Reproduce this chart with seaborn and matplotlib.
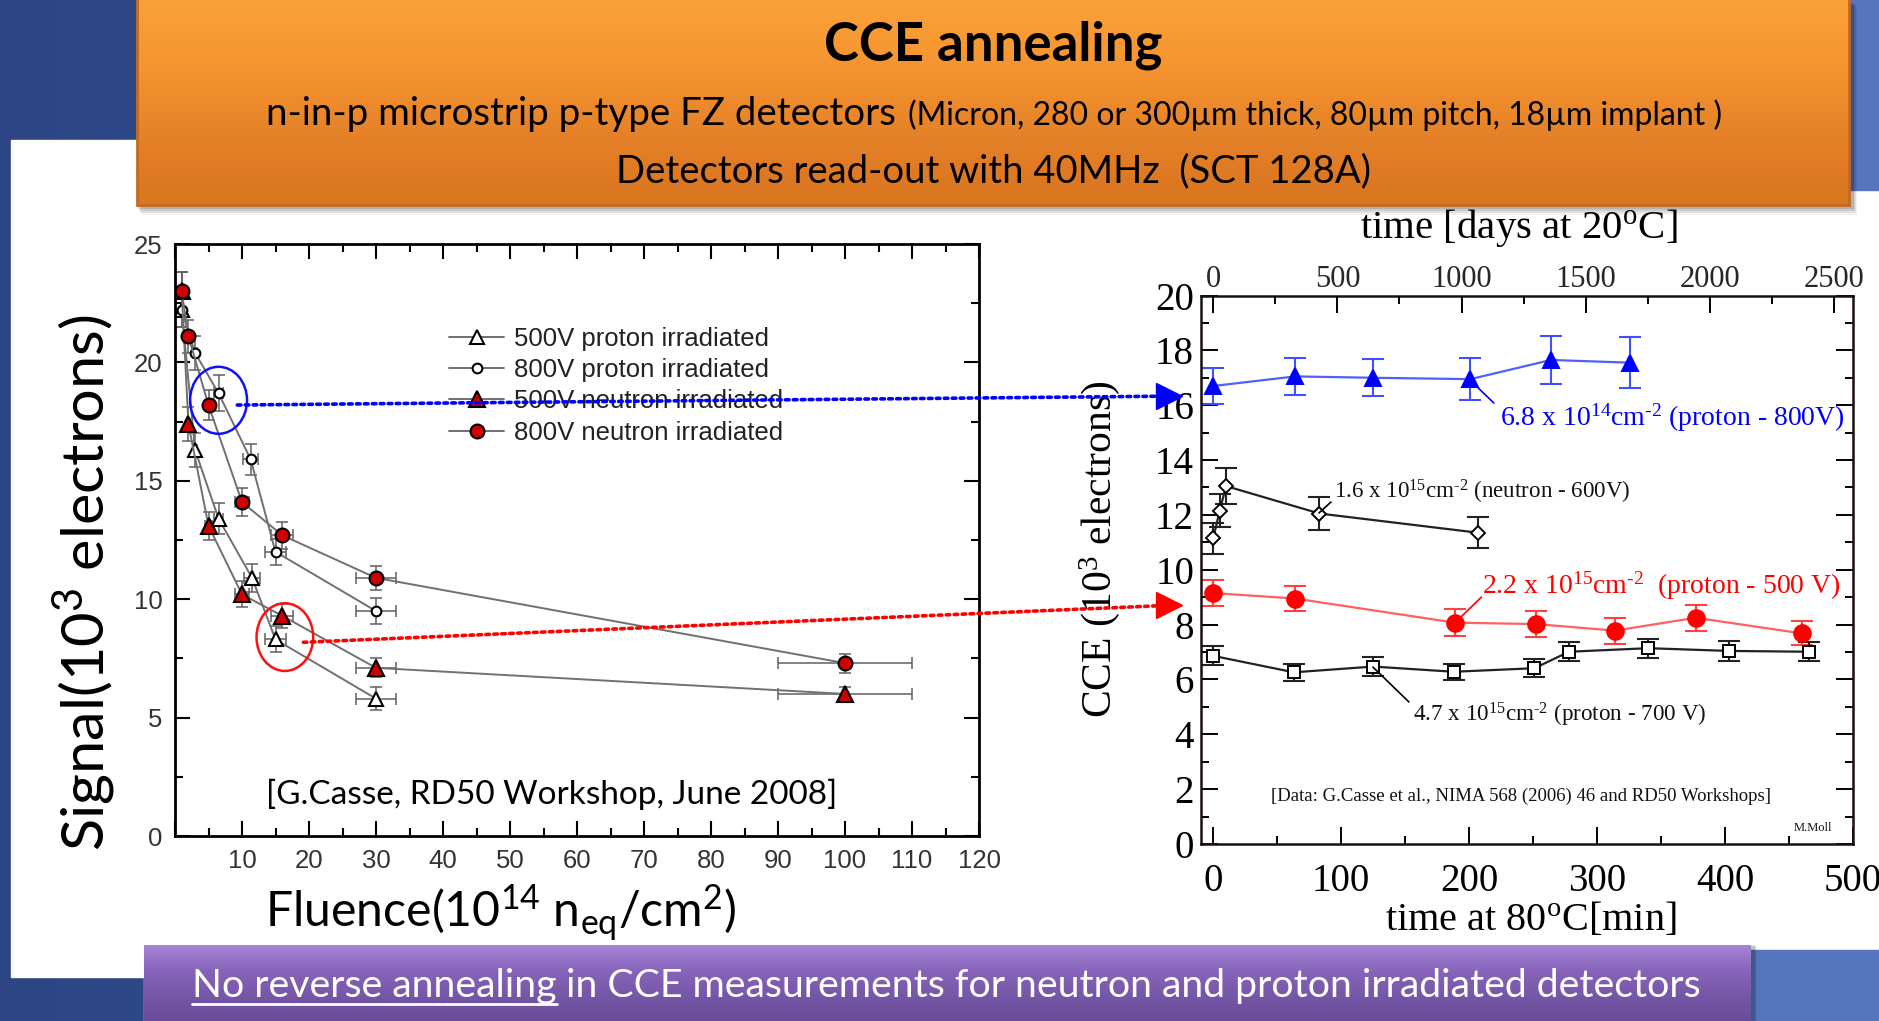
import numpy as np
import matplotlib
matplotlib.use("Agg")
import matplotlib.pyplot as plt
import seaborn as sns
from matplotlib.patches import Rectangle, Ellipse, ConnectionPatch
from matplotlib.lines import Line2D
from matplotlib.colors import LinearSegmentedColormap

# ---------------- Left panel: signal vs fluence ----------------
fluence_p500 = [1, 3, 6.5, 11.5, 15, 30]
signal_p500 = [22.2, 16.3, 13.4, 10.9, 8.3, 5.8]
xerr_p500 = [0.1, 0.3, 0.65, 1.15, 1.5, 3.0]
yerr_p500 = [0.7, 0.7, 0.65, 0.6, 0.55, 0.5]

fluence_p800 = [1, 3, 6.5, 11.3, 15, 30]
signal_p800 = [22.2, 20.4, 18.7, 15.9, 12.0, 9.5]
xerr_p800 = [0.1, 0.3, 0.65, 1.1, 1.5, 3.0]
yerr_p800 = [0.7, 0.7, 0.75, 0.65, 0.55, 0.55]

fluence_n = [1, 2, 5, 10, 16, 30, 100]
signal_n500 = [23.0, 17.4, 13.1, 10.2, 9.3, 7.1, 6.0]
signal_n800 = [23.0, 21.1, 18.2, 14.1, 12.7, 10.9, 7.3]
xerr_n = [0.1, 0.2, 0.5, 1.0, 1.6, 3.0, 10.0]
yerr_n500 = [0.8, 0.7, 0.6, 0.55, 0.5, 0.4, 0.3]
yerr_n800 = [0.8, 0.7, 0.65, 0.6, 0.56, 0.5, 0.4]

legend_labels = ["500V proton irradiated", "800V proton irradiated",
                 "500V neutron irradiated", "800V neutron irradiated"]

# ---------------- Right panel: CCE vs annealing time ----------------
t_p068 = [0, 64, 125, 201, 264, 326]
cce_p068 = [16.7, 17.05, 17.0, 16.95, 17.65, 17.55]
err_p068 = [0.66, 0.68, 0.68, 0.77, 0.88, 0.93]

t_n16 = [0, 5, 10, 83, 207]
cce_n16 = [11.15, 12.15, 13.05, 12.05, 11.35]
err_n16 = [0.57, 0.6, 0.65, 0.6, 0.57]

t_p22 = [0, 64, 189, 252, 314, 377, 460]
cce_p22 = [9.15, 8.95, 8.07, 8.02, 7.78, 8.25, 7.68]
err_p22 = [0.47, 0.46, 0.5, 0.49, 0.47, 0.47, 0.44]

t_p47 = [0, 63, 125, 188, 251, 278, 340, 403, 466]
cce_p47 = [6.86, 6.26, 6.47, 6.28, 6.41, 7.01, 7.14, 7.04, 7.01]
err_p47 = [0.35, 0.3, 0.34, 0.3, 0.33, 0.34, 0.35, 0.35, 0.35]

DAYS_PER_MIN = 5.154   # 1 min at 80C expressed as days at 20C

sns.set_theme(style="ticks")
plt.rcParams['font.family'] = ['Liberation Sans', 'DejaVu Sans']
SANS = ['Lato', 'DejaVu Sans']
SERIF = ['Liberation Serif', 'DejaVu Serif']
HY = '\u2010'  # short hyphen for the exponents

W, H = 1879, 1021
fig = plt.figure(figsize=(W / 100, H / 100), dpi=100)

# ---------------- slide background ----------------
bg = fig.add_axes([0, 0, 1, 1], zorder=-10)
bg.set_xlim(0, W)
bg.set_ylim(H, 0)
bg.axis('off')
blue_cmap = LinearSegmentedColormap.from_list('slide', ['#2d4585', '#3a5598', '#5675be'])
bg.imshow(np.linspace(0, 1, 256)[None, :], extent=[0, W, H, 0], aspect='auto', cmap=blue_cmap)
bg.add_patch(Rectangle((11, 140), W - 11, 977 - 140, color='white', zorder=2))
bg.add_patch(Rectangle((1849, 0), 30, 190, color='#5675be', zorder=3))
bg.add_patch(Rectangle((1740, 950), 139, 71, color='#5575bd', zorder=3))

# orange header with shadow
for i, a in enumerate([0.05, 0.07, 0.09, 0.12]):
    bg.add_patch(Rectangle((137 + 4 - i, 6 - i), 1712 + 4, 205 + 4 - i, color='black', alpha=a, lw=0, zorder=3))
orange = LinearSegmentedColormap.from_list('orng', ['#fba23a', '#f59430', '#e58128', '#d9741f'])
im = bg.imshow(np.linspace(0, 1, 256)[:, None], extent=[137, 1849, 205, 0], aspect='auto', cmap=orange, zorder=4)
clip = Rectangle((137, -2), 1712, 207, transform=bg.transData, facecolor='none')
bg.add_patch(clip)
im.set_clip_path(clip)
bg.add_patch(Rectangle((137, -2), 1712, 207, facecolor='none', edgecolor='#c4691f', lw=2, zorder=5))

# purple footer
for i, a in enumerate([0.06, 0.09, 0.12]):
    bg.add_patch(Rectangle((144 + 3 - i, 947 - i), 1607 + 3, 80, color='black', alpha=a, lw=0, zorder=3))
purple = LinearSegmentedColormap.from_list('prpl', ['#a785d8', '#8663b8', '#7556a6', '#684a98'])
im2 = bg.imshow(np.linspace(0, 1, 256)[:, None], extent=[144, 1751, 1025, 945], aspect='auto', cmap=purple, zorder=4)
clip2 = Rectangle((144, 945), 1607, 80, transform=bg.transData, facecolor='none')
bg.add_patch(clip2)
im2.set_clip_path(clip2)

# header texts
fig.text(993 / W, 1 - 60 / H, "CCE annealing", fontsize=38, fontweight='bold',
         family=SANS, ha='center', va='baseline', color='black')
fig.text(896 / W, 1 - 125 / H, "n-in-p microstrip p-type FZ detectors", fontsize=27.7,
         family=SANS, ha='right', va='baseline', color='black')
fig.text(908 / W, 1 - 125 / H, "(Micron, 280 or 300\u00b5m thick, 80\u00b5m pitch, 18\u00b5m implant )",
         fontsize=23, family=SANS, ha='left', va='baseline', color='black')
fig.text(993 / W, 1 - 182 / H, "Detectors read-out with 40MHz  (SCT 128A)", fontsize=27.5,
         family=SANS, ha='center', va='baseline', color='black')

# footer text with underlined lead-in
t1 = fig.text(192 / W, 1 - 997 / H, "No reverse annealing", fontsize=28.3, family=SANS,
              ha='left', va='baseline', color='white')
fig.canvas.draw()
rend = fig.canvas.get_renderer()
bb = t1.get_window_extent(rend)
x_end = bb.x1
fig.text(x_end / W, 1 - 997 / H, " in CCE measurements for neutron and proton irradiated detectors",
         fontsize=28.3, family=SANS, ha='left', va='baseline', color='white')
fig.add_artist(Line2D([bb.x0 / W, x_end / W], [1 - 1004 / H, 1 - 1004 / H], color='white', lw=2))

# ---------------- left panel ----------------
ax1 = fig.add_axes([175 / W, (H - 836) / H, 804 / W, 592 / H])
ax1.set_xlim(0, 120)
ax1.set_ylim(0, 25)
ax1.set_facecolor('white')
line_grey = '#707070'

left_series = [
    (fluence_p500, signal_p500, xerr_p500, yerr_p500, '^', 9.5, 'white'),
    (fluence_p800, signal_p800, xerr_p800, yerr_p800, 'o', 7, 'white'),
    (fluence_n, signal_n500, xerr_n, yerr_n500, '^', 12, '#cf0000'),
    (fluence_n, signal_n800, xerr_n, yerr_n800, 'o', 10, '#cf0000'),
]
for xs, ys, xe, ye, mk, ms, fc in left_series:
    ax1.errorbar(xs, ys, xerr=xe, yerr=ye, fmt='none', ecolor='#606060', elinewidth=1.1,
                 capsize=4, capthick=1.1, zorder=2)
for xs, ys, xe, ye, mk, ms, fc in left_series:
    sns.lineplot(x=xs, y=ys, ax=ax1, sort=False, estimator=None, color=line_grey, lw=1.4,
                 marker=mk, markersize=ms, markerfacecolor=fc, markeredgecolor='black',
                 markeredgewidth=1.5, zorder=3)

handles = [Line2D([], [], color=line_grey, lw=1.4, marker=mk, markersize=ms,
                  markerfacecolor=fc, markeredgecolor='black', markeredgewidth=1.5)
           for _, _, _, _, mk, ms, fc in left_series]
ax1.legend(handles, legend_labels, loc='upper left', bbox_to_anchor=(0.312, 0.899),
           frameon=False, fontsize=18.5, handlelength=2.15, handletextpad=0.37,
           labelspacing=0.28, borderpad=0.4, labelcolor='#222222')

ax1.add_patch(Ellipse((6.5, 18.4), 8.5, 2.83, fill=False, edgecolor='#1010ff', lw=1.8, zorder=5))
ax1.add_patch(Ellipse((16.4, 8.4), 8.46, 2.86, fill=False, edgecolor='#ff1010', lw=1.8, zorder=5))

ax1.set_xticks(np.arange(0, 121, 10))
ax1.set_xticklabels([''] + [str(v) for v in range(10, 121, 10)])
ax1.set_xticks(np.arange(5, 120, 10), minor=True)
ax1.set_yticks(np.arange(0, 26, 5))
ax1.set_yticks(np.arange(2.5, 25, 5), minor=True)
ax1.tick_params(which='both', direction='in', top=True, right=True, color='black',
                labelcolor='#333333', labelsize=18.5, width=1.5)
ax1.tick_params(which='major', length=11, pad=9)
ax1.tick_params(which='minor', length=6)
for s in ax1.spines.values():
    s.set_linewidth(2)
    s.set_color('black')
ax1.set_xlabel('')
ax1.set_ylabel('')
ax1.text(0.113, 0.07, "[G.Casse, RD50 Workshop, June 2008]", transform=ax1.transAxes,
         fontsize=24, family=SANS, ha='left', va='center', color='black')

fig.text(84 / W, 1 - 583 / H, "Signal(10$\\mathregular{^3}$ electrons)", rotation=90,
         fontsize=42.8, family=SANS, ha='center', va='center', color='black')
fig.text(501 / W, 1 - 913 / H, "Fluence(10$\\mathregular{^{14}}$ n$\\mathregular{_{eq}}$/cm$\\mathregular{^2}$)",
         fontsize=34.7, family=SANS, ha='center', va='center', color='black')

# ---------------- right panel ----------------
ax2 = fig.add_axes([1201 / W, (H - 844) / H, 652 / W, 548.5 / H])
ax2.set_xlim(-9.6, 500)
ax2.set_ylim(0, 20)
ax2.set_facecolor('white')

right_series = [
    (t_p068, cce_p068, err_p068, '^', 11, '#0000ff', '#0000ff', '#5060ff', '#4050ff'),
    (t_n16, cce_n16, err_n16, 'D', 7.5, 'white', 'black', '#222222', '#222222'),
    (t_p22, cce_p22, err_p22, 'o', 12, '#ff0000', '#ff0000', '#ff6060', '#ff4040'),
    (t_p47, cce_p47, err_p47, 's', 9, 'white', 'black', '#222222', '#222222'),
]
for xs, ys, ye, mk, ms, fc, ec, lc, erc in right_series:
    ax2.errorbar(xs, ys, yerr=ye, fmt='none', ecolor=erc, elinewidth=1.5, capsize=8,
                 capthick=1.5, zorder=2)
for xs, ys, ye, mk, ms, fc, ec, lc, erc in right_series:
    sns.lineplot(x=xs, y=ys, ax=ax2, sort=False, estimator=None, color=lc, lw=1.6,
                 marker=mk, markersize=ms, markerfacecolor=fc, markeredgecolor=ec,
                 markeredgewidth=1.4, zorder=3)

ax2.set_xticks(np.arange(0, 501, 100))
ax2.set_xticks(np.arange(50, 500, 100), minor=True)
ax2.set_yticks(np.arange(0, 21, 2))
ax2.set_yticks(np.arange(1, 20, 2), minor=True)
ax2.tick_params(which='both', direction='in', right=True, top=False, color='black',
                labelcolor='black', labelsize=28, labelfontfamily='Liberation Serif', width=1.4)
ax2.tick_params(which='major', length=12)
ax2.tick_params(which='minor', length=6)
ax2.tick_params(axis='x', pad=14)
ax2.tick_params(axis='y', pad=5)
for s in ax2.spines.values():
    s.set_linewidth(1.8)
    s.set_color('#1a1010')
ax2.set_xlabel('')
ax2.set_ylabel('')

ax2t = ax2.twiny()
ax2t.set_xlim(-9.6 * DAYS_PER_MIN, 500 * DAYS_PER_MIN)
ax2t.set_xticks(np.arange(0, 2501, 500))
ax2t.set_xticks(np.arange(250, 2500, 500), minor=True)
ax2t.tick_params(which='both', direction='in', top=True, bottom=False, labelbottom=False,
                 color='black', labelsize=22, labelfontfamily='Liberation Serif', width=1.4, pad=1)
ax2t.tick_params(which='major', length=12)
ax2t.tick_params(which='minor', length=6)
ax2t.grid(False)
for s in ax2t.spines.values():
    s.set_visible(False)

# labelled curves
ann = [
    ((200.5, 16.92), (219.3, 16.08), (224, 15.54), f"6.8 x 10$\\mathregular{{^{{14}}}}$cm$\\mathregular{{^{{{HY}2}}}}$ (proton - 800V)", '#0000ff', 'blue', 20),
    ((82.6, 12.07), (92, 12.47), (94.3, 12.84), f"1.6 x 10$\\mathregular{{^{{15}}}}$cm$\\mathregular{{^{{{HY}2}}}}$ (neutron - 600V)", '#111111', 'black', 16.6),
    ((188.8, 8.06), (209.5, 9.0), (210.3, 9.42), f"2.2 x 10$\\mathregular{{^{{15}}}}$cm$\\mathregular{{^{{{HY}2}}}}$  (proton - 500 V)", '#ff0000', 'red', 20),
    ((124.8, 6.45), (152.9, 5.18), (156, 4.7), f"4.7 x 10$\\mathregular{{^{{15}}}}$cm$\\mathregular{{^{{{HY}2}}}}$ (proton - 700 V)", '#111111', 'black', 16.7),
]
for p0, p1, pt, txt, col, lcol, fs in ann:
    ax2.plot([p0[0], p1[0]], [p0[1], p1[1]], color=lcol, lw=1.2, zorder=4)
    ax2.text(pt[0], pt[1], txt, color=col, fontsize=fs, family=SERIF, ha='left', va='center', zorder=5)
ax2.text(240.8, 1.75, "[Data: G.Casse et al., NIMA 568 (2006) 46 and RD50 Workshops]",
         fontsize=13.5, family=SERIF, ha='center', va='center', color='#111111')
ax2.text(469, 0.58, "M.Moll", fontsize=9, family=SERIF, ha='center', va='center', color='#111111')

fig.text(1100 / W, 1 - 549 / H, "CCE (10$\\mathregular{^3}$ electrons)", rotation=90,
         fontsize=30, family=SERIF, ha='center', va='center', color='black')
fig.text(1531 / W, 1 - 920 / H, "time at 80$\\mathregular{^o}$C[min]", fontsize=29,
         family=SERIF, ha='center', va='center', color='black')
fig.text(1519 / W, 1 - 228 / H, "time [days at 20$\\mathregular{^o}$C]", fontsize=29.4,
         family=SERIF, ha='center', va='center', color='black')

# dotted links from the circled points to the annealing curves
links = [((9.3, 18.2), (-36, 16.33), '#0000ff'), ((19.15, 8.18), (-36, 8.7), '#ff0000')]
for pa, pb, col in links:
    con = ConnectionPatch(xyA=pa, coordsA=ax1.transData, xyB=pb, coordsB=ax2.transData,
                          linestyle=(0, (1, 1.2)), color=col, lw=2.6, zorder=6)
    fig.add_artist(con)
    ax2.plot([pb[0] + 1.5], [pb[1]], marker='>', markersize=19, color=col, clip_on=False, zorder=7)

fig.savefig("out.png", dpi=100)
